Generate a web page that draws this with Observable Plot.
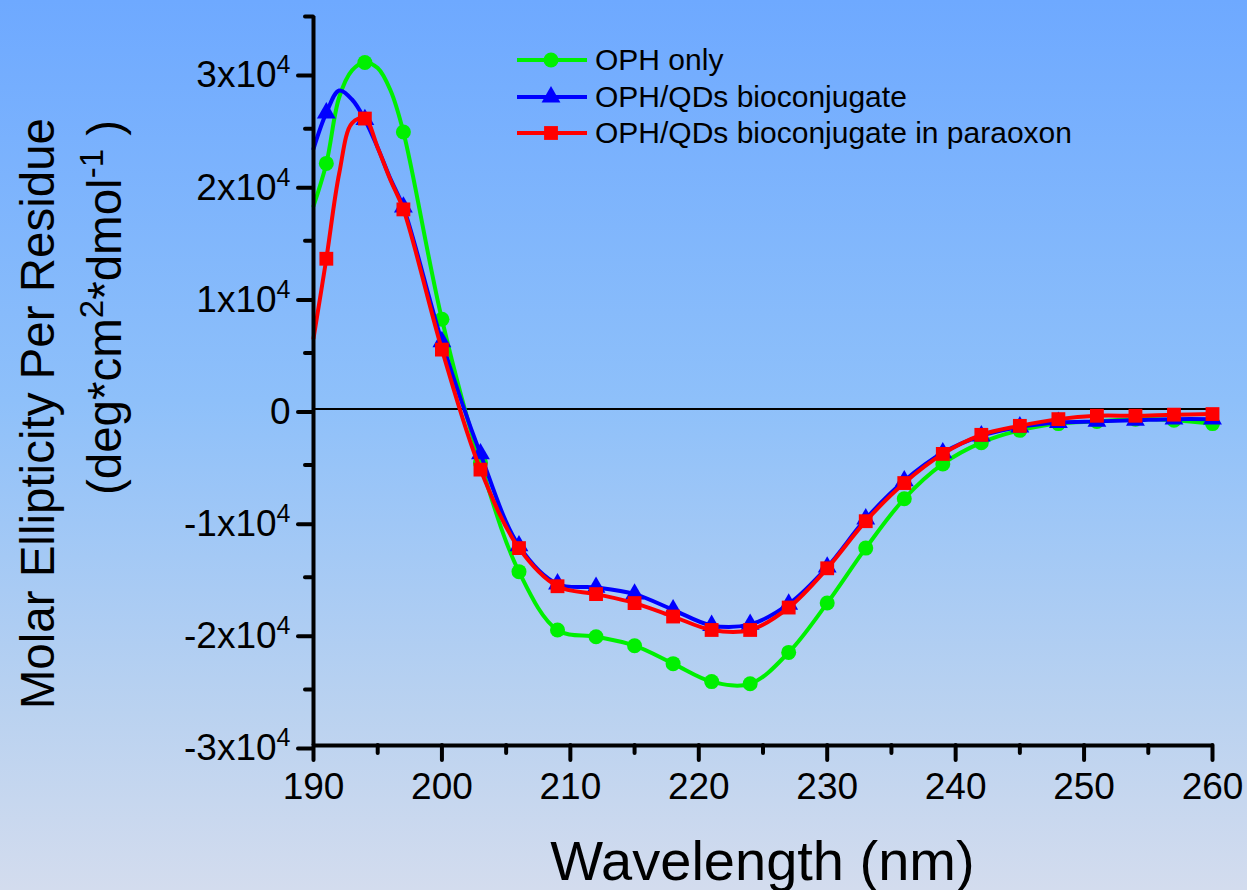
<!DOCTYPE html>
<html><head><meta charset="utf-8">
<script src="https://cdn.jsdelivr.net/npm/d3@7"></script>
<script src="https://cdn.jsdelivr.net/npm/@observablehq/plot@0.6"></script>
<style>
html,body{margin:0;padding:0;}
body{width:1247px;height:890px;overflow:hidden;background:linear-gradient(to bottom,#6EA9FF 0%,#8EC0FA 45%,#BAD2F0 80%,#D3DCEE 100%);font-family:"Liberation Sans",Arial,sans-serif;}
#wrap{position:relative;width:1247px;height:890px;}
#legend{position:absolute;left:517px;top:42px;}
.item{display:flex;align-items:center;height:36.5px;}
.item span{font-size:30px;margin-left:8px;color:#000;line-height:1;}
</style></head><body><div id="wrap"><div id="chart"></div><div id="legend"></div></div>
<script>
// Wavelength (nm) sample points
const wavelength = [190,191,192,193,194,195,196,197,200,203,206,209,212,215,218,221,224,227,230,233,236,239,242,245,248,251,254,257,260];
// Wavelengths where symbols are drawn
const markerWavelengths = [191,194,197,200,203,206,209,212,215,218,221,224,227,230,233,236,239,242,245,248,251,254,257,260];
// Molar ellipticity, in units of 10^4 deg*cm^2*dmol^-1
const ophOnly = [1.81,2.19,2.78,3.02,3.09,3.04,2.84,2.47,0.80,-0.48,-1.45,-1.97,-2.03,-2.11,-2.27,-2.43,-2.45,-2.17,-1.73,-1.24,-0.80,-0.49,-0.30,-0.19,-0.13,-0.11,-0.09,-0.10,-0.13];
const ophQDs = [2.32,2.64,2.84,2.76,2.58,2.33,2.05,1.80,0.60,-0.40,-1.22,-1.56,-1.59,-1.65,-1.79,-1.93,-1.92,-1.74,-1.41,-0.98,-0.64,-0.39,-0.24,-0.16,-0.12,-0.11,-0.10,-0.09,-0.09];
const ophQDsParaoxon = [0.63,1.34,2.10,2.55,2.59,2.33,2.04,1.78,0.53,-0.54,-1.24,-1.58,-1.65,-1.73,-1.85,-1.97,-1.97,-1.77,-1.42,-1.00,-0.66,-0.40,-0.23,-0.15,-0.09,-0.06,-0.06,-0.05,-0.045];

const seriesNames = ["OPH only","OPH/QDs bioconjugate","OPH/QDs bioconjugate in paraoxon"];
const seriesValues = [ophOnly, ophQDs, ophQDsParaoxon];
const seriesColors = ["#00F000","#0000FF","#FF0000"];
const seriesSymbols = ["circle","triangle","square"];
const seriesRadius = [7.5, 7, 7.8];

const xTicks = [190,200,210,220,230,240,250,260];
const xMinorTicks = [195,205,215,225,235,245,255];
const yTicks = [-3,-2,-1,0,1,2,3];
const yTickLabels = ["-3x10^4","-2x10^4","-1x10^4","0","1x10^4","2x10^4","3x10^4"];
const yMinorTicks = [-2.5,-1.5,-0.5,0.5,1.5,2.5,3.5];

const xTitle = "Wavelength (nm)";
const yTitle1 = "Molar Ellipticity Per Residue";

const seriesMarks = [];
seriesNames.forEach((name, i) => {
  const rows = wavelength.map((w, j) => ({series: name, wavelength: w, value: seriesValues[i][j]}));
  const markRows = rows.filter(r => markerWavelengths.includes(r.wavelength));
  seriesMarks.push(Plot.line(rows, {x: "wavelength", y: "value", stroke: seriesColors[i], strokeWidth: 4, curve: "catmull-rom"}));
  seriesMarks.push(Plot.dot(markRows, {x: "wavelength", y: "value", symbol: seriesSymbols[i], r: seriesRadius[i], fill: seriesColors[i], stroke: "none"}));
});

const font = "Liberation Sans, Arial, sans-serif";
const plot = Plot.plot({
  width: 1247, height: 890,
  marginLeft: 313, marginRight: 35, marginTop: 16, marginBottom: 145,
  style: {background: "transparent", fontFamily: font, overflow: "visible", color: "#000"},
  x: {domain: [190, 260], label: null},
  y: {domain: [-3, 3.5], label: null},
  marks: [
    Plot.ruleY([0], {stroke: "#000", strokeWidth: 2}),
    ...seriesMarks,
    Plot.axisX({ticks: xMinorTicks, tickSize: 8, fill: "none", strokeWidth: 4, strokeLinecap: "round", label: null}),
    Plot.axisX({ticks: xTicks, tickSize: 15, tickPadding: 12, fontSize: 37, strokeWidth: 4, strokeLinecap: "round", label: null, tickFormat: d => String(d)}),
    Plot.axisY({ticks: yMinorTicks, tickSize: 8, fill: "none", strokeWidth: 4, strokeLinecap: "round", label: null}),
    Plot.axisY({ticks: yTicks, tickSize: 15, tickPadding: 8, fontSize: 37, dy: 3, strokeWidth: 4, strokeLinecap: "round", label: null, tickFormat: d => yTickLabels[yTicks.indexOf(d)]}),
    Plot.ruleX([190], {stroke: "#000", strokeWidth: 4}),
    Plot.ruleY([-3], {stroke: "#000", strokeWidth: 4})
  ]
});
document.getElementById("chart").appendChild(plot);

const svg = d3.select(plot);
// superscripts on y tick labels
svg.selectAll('g[aria-label="y-axis tick label"] text').each(function() {
  const t = this.textContent;
  if (t.includes("^")) {
    const [base, exp] = t.split("^");
    const s = d3.select(this);
    s.text(null);
    s.append("tspan").text(base);
    s.append("tspan").attr("dy", -14).attr("font-size", 25).text(exp);
  }
});

// axis titles
const xs = plot.scale("x");
svg.append("text")
  .attr("x", (xs.apply(190) + xs.apply(260)) / 2).attr("y", 880)
  .attr("text-anchor", "middle").attr("font-size", 56).attr("font-family", font).attr("fill", "#000")
  .text(xTitle);

svg.append("text")
  .attr("transform", "translate(54,118) rotate(-90)")
  .attr("text-anchor", "end").attr("font-size", 47.5).attr("font-family", font).attr("fill", "#000")
  .text(yTitle1);

const t2 = svg.append("text")
  .attr("transform", "translate(121,120) rotate(-90)")
  .attr("text-anchor", "end").attr("font-size", 47.5).attr("font-family", font).attr("fill", "#000");
t2.append("tspan").text("(deg*cm");
t2.append("tspan").attr("dy", -18).attr("font-size", 33).text("2");
t2.append("tspan").attr("dy", 18).text("*dmol");
t2.append("tspan").attr("dy", -18).attr("font-size", 33).text("-1");
t2.append("tspan").attr("dy", 18).text(" )");

// legend
const legend = d3.select("#legend");
seriesNames.forEach((name, i) => {
  const item = legend.append("div").attr("class", "item");
  const sw = item.append("svg").attr("width", 70).attr("height", 24);
  sw.append("line").attr("x1", 0).attr("x2", 70).attr("y1", 12).attr("y2", 12)
    .attr("stroke", seriesColors[i]).attr("stroke-width", 4);
  const sym = {circle: d3.symbolCircle, triangle: d3.symbolTriangle, square: d3.symbolSquare}[seriesSymbols[i]];
  sw.append("path").attr("transform", "translate(34,12)")
    .attr("d", d3.symbol(sym, Math.PI * seriesRadius[i] * seriesRadius[i])())
    .attr("fill", seriesColors[i]);
  item.append("span").text(name);
});
</script></body></html>
